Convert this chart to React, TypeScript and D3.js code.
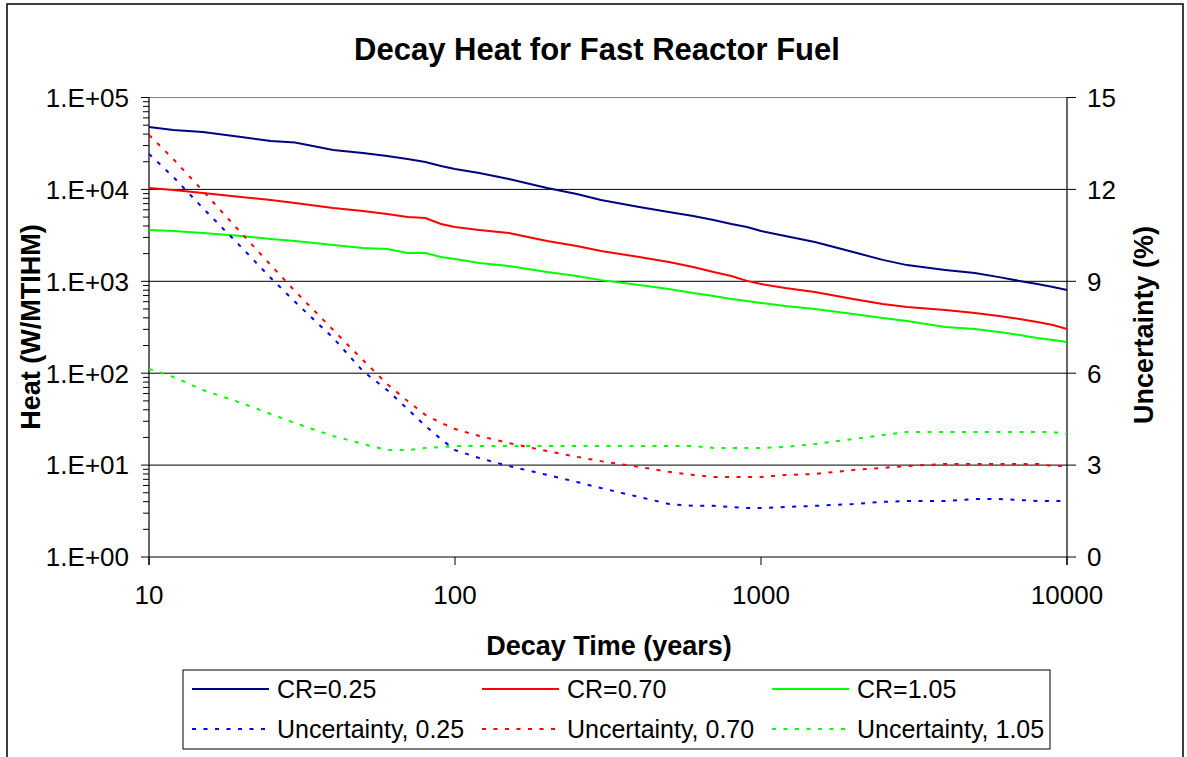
import React from "react";
import * as d3 from "d3";

const years = [10, 12, 15, 20, 25, 30, 40, 50, 60, 70, 80, 90, 100, 120, 150, 200, 250, 300, 400, 500, 600, 700, 800, 900, 1000, 1200, 1500, 2000, 2500, 3000, 4000, 5000, 6000, 7000, 8000, 9000, 10000];

const heatCR025 = [47700, 44300, 42170, 37150, 33650, 32360, 26850, 24890, 23070, 21410, 19860, 17980, 16670, 15070, 12970, 10350, 8910, 7670, 6430, 5670, 5140, 4650, 4210, 3900, 3530, 3110, 2680, 2080, 1710, 1500, 1330, 1230, 1110, 1010, 935, 867, 804];
const heatCR070 = [10350, 9850, 9140, 8270, 7670, 7110, 6280, 5820, 5400, 5010, 4890, 4210, 3900, 3610, 3350, 2750, 2420, 2140, 1840, 1620, 1430, 1260, 1140, 1010, 935, 845, 765, 641, 566, 525, 487, 452, 419, 389, 361, 334, 303];
const heatCR105 = [3610, 3530, 3350, 3110, 2890, 2750, 2480, 2300, 2250, 2030, 2030, 1840, 1750, 1580, 1470, 1260, 1140, 1030, 912, 824, 746, 692, 641, 611, 581, 538, 500, 441, 399, 370, 318, 303, 281, 261, 242, 230, 219];

const unc025 = [13.16, 12.41, 11.39, 10.12, 9.11, 8.33, 7.15, 6.07, 5.45, 4.83, 4.28, 3.85, 3.49, 3.23, 2.97, 2.68, 2.45, 2.25, 1.96, 1.73, 1.67, 1.67, 1.63, 1.6, 1.6, 1.63, 1.67, 1.73, 1.8, 1.83, 1.83, 1.89, 1.89, 1.86, 1.83, 1.83, 1.83];
const unc070 = [13.78, 12.99, 11.95, 10.58, 9.53, 8.68, 7.41, 6.43, 5.65, 5.09, 4.64, 4.38, 4.18, 3.95, 3.72, 3.46, 3.27, 3.13, 2.94, 2.78, 2.68, 2.61, 2.61, 2.61, 2.61, 2.68, 2.71, 2.84, 2.91, 2.97, 3.04, 3.04, 3.04, 3.04, 3.04, 2.97, 2.97];
const unc105 = [6.14, 5.88, 5.45, 5.03, 4.67, 4.37, 3.95, 3.69, 3.49, 3.49, 3.56, 3.59, 3.62, 3.62, 3.62, 3.62, 3.62, 3.62, 3.62, 3.62, 3.62, 3.56, 3.56, 3.56, 3.56, 3.59, 3.69, 3.85, 3.98, 4.08, 4.08, 4.08, 4.08, 4.08, 4.08, 4.08, 4.02];

const xTicks = [10, 100, 1000, 10000];
const yTicks = [1, 10, 100, 1000, 10000, 100000];
const yTickLabels = ["1.E+00", "1.E+01", "1.E+02", "1.E+03", "1.E+04", "1.E+05"];
const y2Ticks = [0, 3, 6, 9, 12, 15];

const seriesLabels = ["CR=0.25", "CR=0.70", "CR=1.05", "Uncertainty, 0.25", "Uncertainty, 0.70", "Uncertainty, 1.05"];
const seriesColors = ["#000080", "#FF0000", "#00FF00", "#0000FF", "#FF0000", "#00FF00"];

const FONT = "'Liberation Sans', Arial, Helvetica, sans-serif";
const DASH = "4 7.5";

export default function App() {
  const W = 1187, H = 757;
  const L = 149, R = 1067, T = 97.5, B = 557;
  const x = d3.scaleLog().domain([10, 10000]).range([L, R]);
  const y = d3.scaleLog().domain([1, 100000]).range([B, T]);
  const y2 = d3.scaleLinear().domain([0, 15]).range([B, T]);

  const lineHeat = d3.line<number>().x((_, i) => x(years[i])).y((d) => y(d));
  const lineUnc = d3.line<number>().x((_, i) => x(years[i])).y((d) => y2(d));

  const minorTicks: number[] = [];
  for (let k = 0; k < 5; k++) for (let m = 2; m <= 9; m++) minorTicks.push(m * Math.pow(10, k));

  const heatSeries = [heatCR025, heatCR070, heatCR105];
  const uncSeries = [unc025, unc070, unc105];

  const legendCols = [192, 482, 772];
  const legendRows = [689, 729];

  return (
    <svg width={W} height={H} style={{ position: "absolute", left: 0, top: 0, background: "#fff" }} fontFamily={FONT}>
      <rect x={0} y={0} width={W} height={H} fill="#fff" />
      <rect x={7} y={4} width={1176} height={900} fill="none" stroke="#000" strokeWidth={1.5} />

      {/* title */}
      <text x={597} y={60} textAnchor="middle" fontSize={31} fontWeight="bold">Decay Heat for Fast Reactor Fuel</text>

      {/* gridlines */}
      {yTicks.slice(1, 5).map((t) => (
        <line key={"g" + t} x1={L} x2={R} y1={y(t)} y2={y(t)} stroke="#000" strokeWidth={1} />
      ))}
      <line x1={L} x2={R} y1={T} y2={T} stroke="#808080" strokeWidth={1.2} />

      {/* axes */}
      <line x1={L} x2={L} y1={T} y2={B + 8} stroke="#000" strokeWidth={1.2} />
      <line x1={R} x2={R} y1={T} y2={B + 8} stroke="#000" strokeWidth={1.2} />
      <line x1={L} x2={R} y1={B} y2={B} stroke="#000" strokeWidth={1.2} />

      {/* left ticks */}
      {yTicks.map((t) => (
        <line key={"yt" + t} x1={L - 8} x2={L} y1={y(t)} y2={y(t)} stroke="#000" strokeWidth={1} />
      ))}
      {minorTicks.map((t) => (
        <line key={"ym" + t} x1={L - 6} x2={L} y1={y(t)} y2={y(t)} stroke="#000" strokeWidth={1} />
      ))}
      {yTicks.map((t, i) => (
        <text key={"yl" + t} x={129} y={y(t)} dy="0.36em" textAnchor="end" fontSize={26}>{yTickLabels[i]}</text>
      ))}

      {/* right ticks */}
      {y2Ticks.map((t) => (
        <g key={"y2" + t}>
          <line x1={R} x2={R + 9} y1={y2(t)} y2={y2(t)} stroke="#000" strokeWidth={1} />
          <text x={1087} y={y2(t)} dy="0.36em" textAnchor="start" fontSize={26}>{t}</text>
        </g>
      ))}

      {/* x ticks */}
      {xTicks.map((t) => (
        <g key={"xt" + t}>
          <line x1={x(t)} x2={x(t)} y1={B} y2={B + 8} stroke="#000" strokeWidth={1} />
          <text x={x(t)} y={604} textAnchor="middle" fontSize={26}>{t}</text>
        </g>
      ))}

      {/* axis titles */}
      <text x={609} y={655} textAnchor="middle" fontSize={27} fontWeight="bold">Decay Time (years)</text>
      <text transform="translate(40,327) rotate(-90)" textAnchor="middle" fontSize={27} fontWeight="bold">Heat (W/MTIHM)</text>
      <text transform="translate(1153,325) rotate(-90)" textAnchor="middle" fontSize={27} fontWeight="bold">Uncertainty (%)</text>

      {/* series */}
      {heatSeries.map((s, i) => (
        <path key={"h" + i} d={lineHeat(s) || ""} fill="none" stroke={seriesColors[i]} strokeWidth={2} />
      ))}
      {uncSeries.map((s, i) => (
        <path key={"u" + i} d={lineUnc(s) || ""} fill="none" stroke={seriesColors[i + 3]} strokeWidth={2} strokeDasharray={DASH} />
      ))}

      {/* legend */}
      <rect x={183} y={670} width={867} height={79} fill="#fff" stroke="#000" strokeWidth={1} />
      {seriesLabels.map((lab, i) => {
        const cx = legendCols[i % 3];
        const cy = legendRows[Math.floor(i / 3)];
        return (
          <g key={"lg" + i}>
            <line x1={cx} x2={cx + 77} y1={cy} y2={cy} stroke={seriesColors[i]} strokeWidth={2} strokeDasharray={i >= 3 ? DASH : undefined} />
            <text x={cx + 85} y={cy} dy="0.36em" fontSize={25}>{lab}</text>
          </g>
        );
      })}
    </svg>
  );
}
